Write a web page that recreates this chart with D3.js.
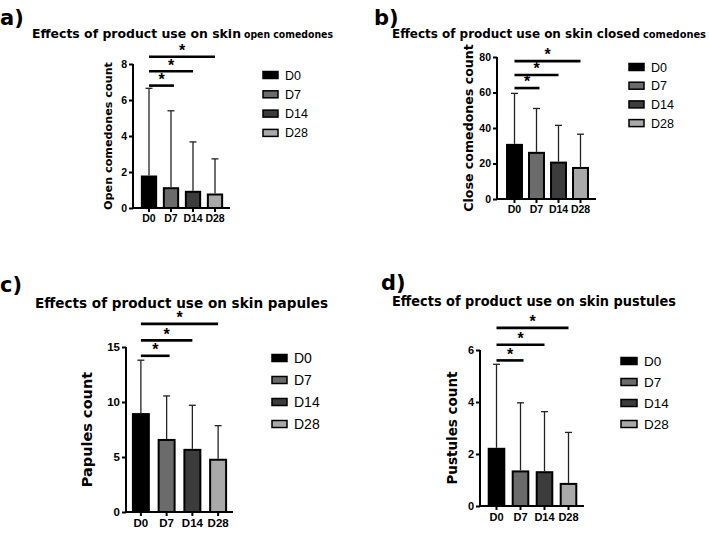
<!DOCTYPE html>
<html>
<head>
<meta charset="utf-8">
<script src="https://cdn.jsdelivr.net/npm/d3@7"></script>
<style>
  body { margin: 0; background: #fff; }
  svg { display: block; font-family: "Liberation Sans", Arial, sans-serif; }
  .heavy { font-family: "DejaVu Sans", sans-serif; font-weight: bold; }
</style>
</head>
<body>
<svg id="chart" width="709" height="534"></svg>
<script>
// data
var DAYS = ['D0', 'D7', 'D14', 'D28'];
var DAY_COLORS = ['#000000', '#6b6b6b', '#3c3c3c', '#a9a9a9'];

var OPEN_MEAN = [1.75, 1.1, 0.9, 0.75];
var OPEN_ERR = [4.9, 4.3, 2.77, 1.98];
var OPEN_TICKS = [0, 2, 4, 6, 8];
var OPEN_SIG = [6.8, 7.6, 8.4];

var CLOSED_MEAN = [30.5, 26, 20.5, 17.5];
var CLOSED_ERR = [29, 25, 21, 19];
var CLOSED_TICKS = [0, 20, 40, 60, 80];
var CLOSED_SIG = [62.5, 69.9, 77.7];

var PAPULES_MEAN = [8.9, 6.55, 5.65, 4.75];
var PAPULES_ERR = [4.9, 4.0, 4.05, 3.1];
var PAPULES_TICKS = [0, 5, 10, 15];
var PAPULES_SIG = [14.2, 15.6, 17.1];

var PUSTULES_MEAN = [2.2, 1.33, 1.3, 0.85];
var PUSTULES_ERR = [3.25, 2.64, 2.33, 1.98];
var PUSTULES_TICKS = [0, 2, 4, 6];
var PUSTULES_SIG = [5.6, 6.2, 6.85];

var svg = d3.select('#chart');

function drawPanel(p){
  var g = svg.append('g');

  var y = d3.scaleLinear().domain([0, p.max]).range([p.y0, p.y1]);
  var x = d3.scaleBand().domain(DAYS).range(p.band).paddingInner(p.pad).paddingOuter(p.pad / 2);

  // letter + title
  g.append('text')
    .attr('class', 'heavy')
    .attr('x', p.letter[0]).attr('y', p.letter[1])
    .attr('font-size', 21)
    .text(p.id + ')');

  g.append('text')
    .attr('class', 'heavy')
    .attr('x', p.title[0]).attr('y', p.title[1])
    .attr('font-size', p.titleSize)
    .attr('textLength', p.titleLen)
    .attr('lengthAdjust', 'spacingAndGlyphs')
    .text(p.titleMain);
  if (p.titleSmall) {
    g.append('text')
      .attr('class', 'heavy')
      .attr('x', p.title[0] + p.titleLen + 3).attr('y', p.title[1])
      .attr('font-size', p.smallSize)
      .attr('textLength', p.smallLen)
      .attr('lengthAdjust', 'spacingAndGlyphs')
      .text(p.titleSmall);
  }

  // bars
  g.selectAll('.bar').data(p.mean).enter().append('rect')
    .attr('class', 'bar')
    .attr('x', function(d, i){ return x(DAYS[i]); })
    .attr('y', function(d){ return y(d); })
    .attr('width', x.bandwidth())
    .attr('height', function(d){ return y(0) - y(d); })
    .attr('fill', function(d, i){ return DAY_COLORS[i]; })
    .attr('stroke', '#000')
    .attr('stroke-width', 2);

  // error bars (upper only)
  var eb = g.selectAll('.err').data(p.mean).enter().append('g').attr('class', 'err');
  eb.append('line')
    .attr('x1', function(d, i){ return x(DAYS[i]) + x.bandwidth() / 2; })
    .attr('x2', function(d, i){ return x(DAYS[i]) + x.bandwidth() / 2; })
    .attr('y1', function(d){ return y(d) - 1; })
    .attr('y2', function(d, i){ return y(d + p.err[i]); })
    .attr('stroke', '#222').attr('stroke-width', 1.3);
  eb.append('line')
    .attr('x1', function(d, i){ return x(DAYS[i]) + x.bandwidth() / 2 - 3.5; })
    .attr('x2', function(d, i){ return x(DAYS[i]) + x.bandwidth() / 2 + 3.5; })
    .attr('y1', function(d, i){ return y(d + p.err[i]); })
    .attr('y2', function(d, i){ return y(d + p.err[i]); })
    .attr('stroke', '#222').attr('stroke-width', 1.3);

  // y axis
  var yAxis = g.append('g')
    .attr('transform', 'translate(' + p.axisX + ',0)')
    .call(d3.axisLeft(y).tickValues(p.ticks).tickFormat(d3.format('d')).tickSize(4).tickPadding(2));
  yAxis.select('.domain').attr('stroke-width', 2).attr('d', 'M0,' + y(p.max) + 'V' + y(0));
  yAxis.selectAll('.tick line').attr('stroke-width', 2);
  yAxis.selectAll('text').attr('font-size', p.tickSize).attr('font-weight', 'bold')
    .attr('font-family', '"Liberation Sans", Arial, sans-serif').attr('fill', '#000');

  // x axis
  var xAxis = g.append('g')
    .attr('transform', 'translate(0,' + y(0) + ')')
    .call(d3.axisBottom(x).tickSize(4).tickPadding(3));
  xAxis.select('.domain').attr('stroke-width', 2).attr('d', 'M' + p.axisX + ',0H' + p.xEnd);
  xAxis.selectAll('.tick line').attr('stroke-width', 2);
  xAxis.selectAll('text').attr('font-size', p.tickSize).attr('font-weight', 'bold')
    .attr('font-family', '"Liberation Sans", Arial, sans-serif').attr('fill', '#000');

  // y label
  g.append('text')
    .attr('class', 'heavy')
    .attr('transform', 'translate(' + p.ylabX + ',' + (p.y0 + p.y1) / 2 + ') rotate(-90)')
    .attr('text-anchor', 'middle').attr('dy', '0.35em')
    .attr('font-size', p.ylabSize)
    .text(p.ylab);

  // significance brackets
  var x0 = x(DAYS[0]) + x.bandwidth() / 2;
  p.sig.forEach(function(v, i){
    var x1 = x(DAYS[i + 1]) + x.bandwidth() / 2 + (i === 0 ? 3 : 0);
    g.append('line')
      .attr('x1', x0).attr('x2', x1)
      .attr('y1', y(v)).attr('y2', y(v))
      .attr('stroke', '#000').attr('stroke-width', 2.6);
    g.append('text')
      .attr('x', (x0 + x1) / 2).attr('y', y(v) + 1)
      .attr('text-anchor', 'middle')
      .attr('font-size', 16).attr('font-weight', 'bold')
      .attr('dy', '-0.1em')
      .text('*');
  });

  // legend
  DAYS.forEach(function(d, i){
    var ly = p.legend[1] + i * p.legendStep;
    g.append('rect')
      .attr('x', p.legend[0]).attr('y', ly - 3.5)
      .attr('width', p.swatchW).attr('height', 7)
      .attr('fill', DAY_COLORS[i]).attr('stroke', '#000').attr('stroke-width', 1.5);
    g.append('text')
      .attr('x', p.legend[0] + p.swatchW + 7).attr('y', ly).attr('dy', '0.36em')
      .attr('font-size', p.legendSize)
      .text(d);
  });
}

drawPanel({
  id: 'a', letter: [0, 25], title: [32, 38], titleSize: 12.3, titleLen: 209,
  titleMain: 'Effects of product use on skin',
  titleSmall: 'open comedones', smallSize: 10, smallLen: 89,
  mean: OPEN_MEAN, err: OPEN_ERR, ticks: OPEN_TICKS, sig: OPEN_SIG, max: 8,
  y0: 208, y1: 64, band: [138, 226], pad: 0.35, axisX: 133, xEnd: 230,
  tickSize: 10.5, ylab: 'Open comedones count', ylabX: 108, ylabSize: 11.2,
  legend: [263, 75], legendStep: 19.3, swatchW: 15, legendSize: 12.5
});

drawPanel({
  id: 'b', letter: [374, 25], title: [392, 38], titleSize: 12, titleLen: 248,
  titleMain: 'Effects of product use on skin closed',
  titleSmall: 'comedones', smallSize: 9.8, smallLen: 63,
  mean: CLOSED_MEAN, err: CLOSED_ERR, ticks: CLOSED_TICKS, sig: CLOSED_SIG, max: 80,
  y0: 199, y1: 57, band: [503.5, 591.5], pad: 0.32, axisX: 497, xEnd: 596,
  tickSize: 10.5, ylab: 'Close comedones count', ylabX: 469, ylabSize: 12.6,
  legend: [629, 67], legendStep: 18.7, swatchW: 15, legendSize: 12.5
});

drawPanel({
  id: 'c', letter: [0, 292], title: [35, 308], titleSize: 14, titleLen: 293,
  titleMain: 'Effects of product use on skin papules',
  mean: PAPULES_MEAN, err: PAPULES_ERR, ticks: PAPULES_TICKS, sig: PAPULES_SIG, max: 15,
  y0: 512, y1: 347, band: [128, 231], pad: 0.38, axisX: 126, xEnd: 233,
  tickSize: 11.5, ylab: 'Papules count', ylabX: 87, ylabSize: 14.5,
  legend: [272, 358], legendStep: 22, swatchW: 15, legendSize: 14
});

drawPanel({
  id: 'd', letter: [381, 290], title: [392, 306], titleSize: 13.4, titleLen: 284,
  titleMain: 'Effects of product use on skin pustules',
  mean: PUSTULES_MEAN, err: PUSTULES_ERR, ticks: PUSTULES_TICKS, sig: PUSTULES_SIG, max: 6,
  y0: 506, y1: 350, band: [484.5, 580.5], pad: 0.35, axisX: 480, xEnd: 584,
  tickSize: 11, ylab: 'Pustules count', ylabX: 452, ylabSize: 13.5,
  legend: [621, 361], legendStep: 21, swatchW: 16, legendSize: 13.5
});
</script>
</body>
</html>
